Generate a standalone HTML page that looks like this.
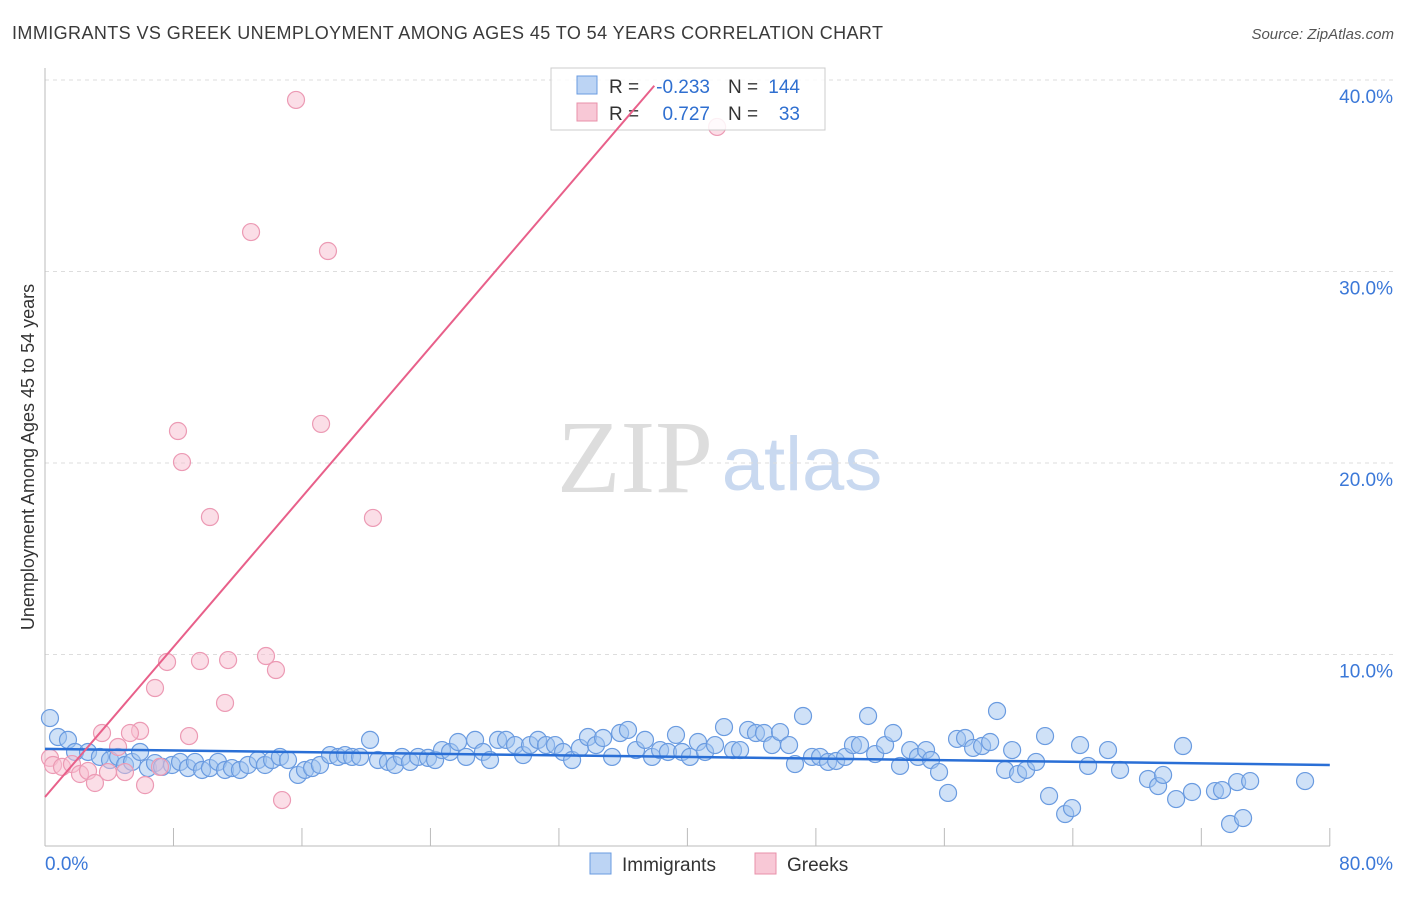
<!DOCTYPE html>
<html><head><meta charset="utf-8"><style>
body{margin:0;background:#fff;font-family:"Liberation Sans",sans-serif}
</style></head><body>
<svg id="c" width="1406" height="892" xmlns="http://www.w3.org/2000/svg" font-family="Liberation Sans, sans-serif">
<text x="12" y="39" font-size="18" fill="#3a3a3a" textLength="871" lengthAdjust="spacing">IMMIGRANTS VS GREEK UNEMPLOYMENT AMONG AGES 45 TO 54 YEARS CORRELATION CHART</text>
<text x="1394" y="39" font-size="15" fill="#555" font-style="italic" text-anchor="end">Source: ZipAtlas.com</text>
<text transform="translate(34,457) rotate(-90)" font-size="18" fill="#333" text-anchor="middle">Unemployment Among Ages 45 to 54 years</text>
<g><text x="635" y="492" font-size="104" fill="#ddd" font-family="Liberation Serif, serif" text-anchor="middle">ZIP</text><text x="802" y="490" font-size="76" fill="#c9d9f0" text-anchor="middle">atlas</text></g>
<g id="grid"></g><g id="axes"></g><g id="pts"></g>
<g>
<rect x="551" y="68" width="274" height="62" fill="#fff" fill-opacity="0.85" stroke="#ccc"/>
<rect x="577" y="76" width="20" height="18" fill="#bcd4f4" stroke="#6a9be0"/>
<text x="609" y="93" font-size="19" fill="#333">R =</text>
<text x="710" y="93" font-size="19" fill="#2f6fd0" text-anchor="end">-0.233</text>
<text x="728" y="93" font-size="19" fill="#333">N =</text>
<text x="800" y="93" font-size="19" fill="#2f6fd0" text-anchor="end">144</text>
<rect x="577" y="103" width="20" height="18" fill="#f8c8d6" stroke="#e890aa"/>
<text x="609" y="120" font-size="19" fill="#333">R =</text>
<text x="710" y="120" font-size="19" fill="#2f6fd0" text-anchor="end">0.727</text>
<text x="728" y="120" font-size="19" fill="#333">N =</text>
<text x="800" y="120" font-size="19" fill="#2f6fd0" text-anchor="end">33</text>
</g>
<g id="trend"></g>
<g><rect x="590" y="853" width="21" height="21" fill="#bcd4f4" stroke="#6a9be0"/><text x="622" y="871" font-size="19" fill="#333">Immigrants</text></g>
<g><rect x="755" y="853" width="21" height="21" fill="#f8c8d6" stroke="#e890aa"/><text x="787" y="871" font-size="19" fill="#333">Greeks</text></g>
</svg>
<script>
const yTicks=[10,20,30,40];
const yTickLabels=["10.0%","20.0%","30.0%","40.0%"];
const xTickLabels=["0.0%","80.0%"];
const blueX=[0.31,0.81,1.43,1.87,2.68,3.42,4.05,4.55,4.98,5.42,5.92,6.41,6.85,7.29,7.91,8.41,8.90,9.34,9.78,10.27,10.77,11.21,11.64,12.14,12.64,13.26,13.70,14.14,14.63,15.13,15.75,16.19,16.63,17.12,17.75,18.25,18.68,19.12,19.62,20.24,20.74,21.36,21.79,22.23,22.73,23.23,23.85,24.29,24.72,25.22,25.72,26.22,26.78,27.27,27.71,28.21,28.71,29.27,29.77,30.20,30.70,31.20,31.76,32.26,32.82,33.31,33.81,34.31,34.75,35.31,35.81,36.30,36.80,37.36,37.80,38.30,38.79,39.29,39.67,40.16,40.66,41.10,41.72,42.28,42.84,43.28,43.78,44.27,44.77,45.27,45.77,46.33,46.70,47.20,47.76,48.26,48.76,49.26,49.82,50.31,50.75,51.25,51.69,52.31,52.81,53.24,53.87,54.36,54.86,55.17,55.67,56.23,56.79,57.29,57.79,58.35,58.85,59.28,59.78,60.22,60.59,61.09,61.71,62.27,62.52,63.52,63.95,64.45,64.95,66.19,66.94,68.68,69.31,69.62,70.43,70.86,71.42,72.85,73.29,73.79,74.23,74.60,75.04,78.46];
const blueY=[6.68,5.69,5.54,4.91,4.91,4.65,4.49,4.65,4.23,4.39,4.91,4.07,4.33,4.13,4.23,4.39,4.07,4.39,3.97,4.07,4.39,3.97,4.07,3.97,4.23,4.49,4.23,4.49,4.65,4.49,3.71,3.97,4.07,4.23,4.75,4.65,4.75,4.65,4.65,5.54,4.49,4.39,4.23,4.65,4.39,4.65,4.60,4.49,5.01,4.91,5.43,4.65,5.54,4.91,4.49,5.54,5.54,5.27,4.75,5.27,5.54,5.27,5.27,4.91,4.49,5.12,5.69,5.27,5.64,4.65,5.90,6.06,5.01,5.54,4.65,5.01,4.91,5.80,4.91,4.65,5.43,4.91,5.27,6.21,5.01,5.01,6.06,5.90,5.90,5.27,5.95,5.27,4.28,6.79,4.65,4.65,4.39,4.44,4.65,5.27,5.27,6.79,4.80,5.27,5.90,4.18,5.01,4.65,5.01,4.49,3.86,2.77,5.59,5.64,5.12,5.22,5.43,7.05,3.97,5.01,3.76,3.97,4.39,5.74,2.61,1.67,1.98,5.27,4.18,5.01,3.97,3.50,3.13,3.71,2.45,5.22,2.82,2.87,2.92,1.15,3.34,1.46,3.39,3.39];
const pinkX=[15.63,12.83,17.62,8.28,17.19,8.53,10.27,20.42,41.85,7.60,9.65,11.40,13.76,14.38,6.85,11.21,3.55,5.92,5.29,8.97,4.55,0.31,0.50,1.06,1.68,2.18,2.68,3.11,3.92,4.98,6.23,7.16,14.76];
const pinkY=[38.96,32.06,31.07,21.67,22.04,20.05,17.18,17.13,37.55,9.61,9.66,9.71,9.92,9.19,8.25,7.47,5.90,6.01,5.90,5.74,5.17,4.60,4.23,4.13,4.28,3.76,3.92,3.29,3.86,3.86,3.18,4.13,2.40];
const blueTrend=[5.07,-0.0105];
const pinkTrend=[2.56,0.979];
const NS="http://www.w3.org/2000/svg";
const sx=v=>45+v*16.06, sy=v=>846-v*19.15;
function mk(p,t,a){const e=document.createElementNS(NS,t);for(const k in a)e.setAttribute(k,a[k]);p.appendChild(e);return e;}
const grid=document.getElementById('grid'),axes=document.getElementById('axes'),pts=document.getElementById('pts'),tr=document.getElementById('trend');
yTicks.forEach((v,i)=>{
 const l=mk(grid,'line',{x1:45,x2:1393,y1:sy(v),y2:sy(v),stroke:'#ddd','stroke-dasharray':'4,4'});
 
 
 const t=mk(grid,'text',{x:1393,y:sy(v)+23,'font-size':19,fill:'#3b78d8','text-anchor':'end'});
 t.textContent=yTickLabels[i];
 
 
});
mk(axes,'line',{x1:45,x2:45,y1:68,y2:846,stroke:'#bbb'});
mk(axes,'line',{x1:45,x2:1330,y1:846,y2:846,stroke:'#bbb'});
for(let i=1;i<=10;i++){const x=sx(i*8);const l=mk(axes,'line',{x1:x,x2:x,y1:828,y2:846,stroke:'#bbb'});
 
 }
[[0,'start'],[80,'end']].forEach((d,i)=>{const t=mk(axes,'text',{x:i?1393:45,y:870,'font-size':19,fill:'#3b78d8','text-anchor':d[1]});t.textContent=xTickLabels[i];
 
 });
blueX.forEach((x,i)=>{const c=mk(pts,'circle',{cx:sx(x),cy:sy(blueY[i]),r:8.5,fill:'rgba(160,196,240,0.5)',stroke:'#6a9be0','stroke-width':1.2});
 
 });
pinkX.forEach((x,i)=>{const c=mk(pts,'circle',{cx:sx(x),cy:sy(pinkY[i]),r:8.5,fill:'rgba(248,190,208,0.5)',stroke:'#ec9ab4','stroke-width':1.2});
 
 });
const bl=mk(tr,'line',{x1:sx(0),y1:sy(blueTrend[0]),x2:sx(80),y2:sy(blueTrend[0]+80*blueTrend[1]),stroke:'#2a6fd6','stroke-width':2.5});


const pe=(39.7-pinkTrend[0])/pinkTrend[1];
const pl=mk(tr,'line',{x1:sx(0),y1:sy(pinkTrend[0]),x2:sx(pe),y2:sy(39.7),stroke:'#e8608a','stroke-width':2});


</script>
</body></html>
